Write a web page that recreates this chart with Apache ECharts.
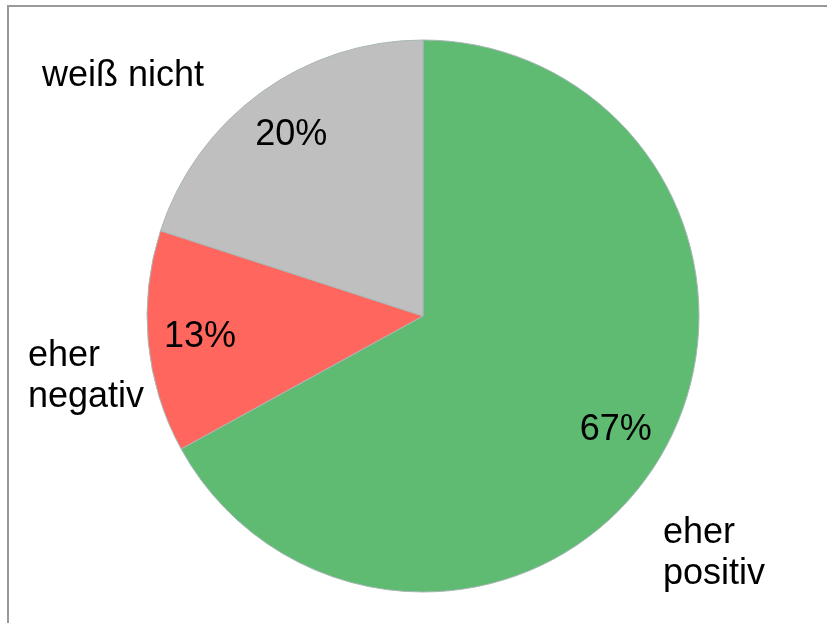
<!DOCTYPE html>
<html>
<head>
<meta charset="utf-8">
<script src="https://cdn.jsdelivr.net/npm/echarts@6/dist/echarts.min.js"></script>
<style>
  html, body { margin: 0; padding: 0; background: #fff; }
  #chart { width: 827px; height: 623px; }
</style>
</head>
<body>
<div id="chart"></div>
<script>
// Anteile in Prozent
var categories = ['eher positiv', 'eher negativ', 'weiß nicht'];
var shares = [67, 13, 20];
var colors = ['#5FBA72', '#FF665E', '#BFBFBF'];

// Lage der Kategorie-Beschriftungen (linker Rand, vertikale Mitte)
var namePos = [[663, 554], [28, 377], [42, 76]];

var chart = echarts.init(document.getElementById('chart'));

var pieData = categories.map(function (c, i) {
  return { name: c, value: shares[i], itemStyle: { color: colors[i] } };
});

var font = { fontFamily: 'Liberation Sans, Arial, sans-serif', fontSize: 36, color: '#000' };

chart.setOption({
  animation: false,
  graphic: [{
    type: 'polyline',
    shape: { points: [[8, 640], [8, 6], [840, 6]] },
    style: { stroke: '#999', lineWidth: 2, fill: null },
    silent: true
  }],
  series: [{
    // Kreis mit Kategorienamen aussen
    type: 'pie',
    center: [423, 316],
    radius: [0, 276],
    startAngle: 90,
    clockwise: true,
    silent: true,
    itemStyle: { borderColor: '#A9B7B7', borderWidth: 1 },
    label: Object.assign({
      show: true,
      position: 'outside',
      lineHeight: 41,
      width: 300,
      overflow: 'none',
      formatter: function (p) { return p.name.replace('eher ', 'eher\n'); }
    }, font),
    labelLine: { show: false },
    labelLayout: function (p) {
      var pos = namePos[p.dataIndex];
      return { x: pos[0], y: pos[1], align: 'left', verticalAlign: 'middle', hideOverlap: false };
    },
    data: pieData
  }, {
    // unsichtbarer Ring nur fuer die Prozentwerte
    type: 'pie',
    center: [423, 316],
    radius: [166, 276],
    startAngle: 90,
    clockwise: true,
    silent: true,
    itemStyle: { color: 'rgba(0,0,0,0)', borderWidth: 0 },
    label: Object.assign({
      show: true,
      position: 'inside',
      formatter: '{c}%'
    }, font),
    labelLine: { show: false },
    data: categories.map(function (c, i) { return { name: c, value: shares[i] }; })
  }]
});
</script>
</body>
</html>
